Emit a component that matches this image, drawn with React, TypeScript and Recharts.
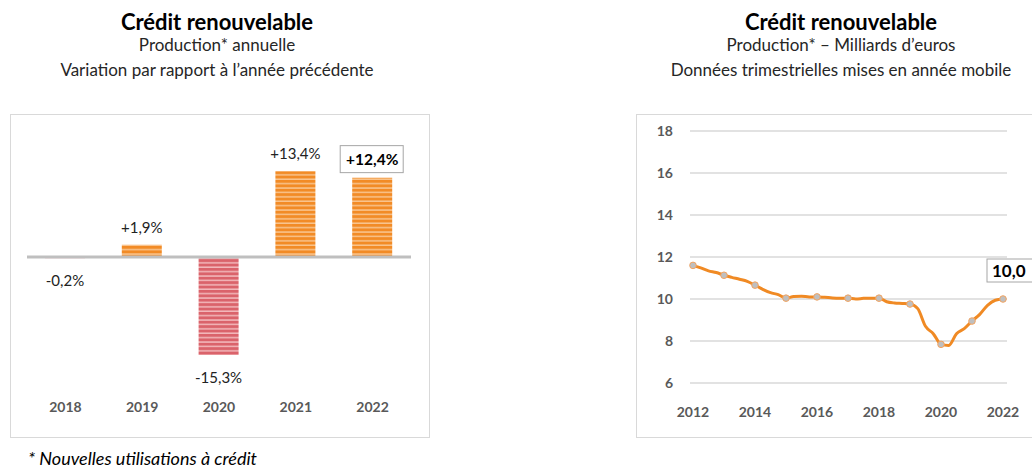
import { Bar, BarChart, CartesianGrid, Cell, LabelList, Line, LineChart, ReferenceLine, XAxis, YAxis } from "recharts";

// Graphique de gauche : variation annuelle (%)
const barYears = ["2018", "2019", "2020", "2021", "2022"];
const barValues = [-0.2, 1.9, -15.3, 13.4, 12.4];
const barLabels = ["-0,2%", "+1,9%", "-15,3%", "+13,4%", "+12,4%"];

// Graphique de droite : production trimestrielle en année mobile (Md€)
const quarters = [
  2012, 2012.25, 2012.5, 2012.75, 2013, 2013.25, 2013.5, 2013.75, 2014, 2014.25, 2014.5, 2014.75,
  2015, 2015.25, 2015.5, 2015.75, 2016, 2016.25, 2016.5, 2016.75, 2017, 2017.25, 2017.5, 2017.75,
  2018, 2018.25, 2018.5, 2018.75, 2019, 2019.25, 2019.5, 2019.75, 2020, 2020.25, 2020.5, 2020.75,
  2021, 2021.25, 2021.5, 2021.75, 2022,
];
const production = [
  11.6, 11.48, 11.34, 11.26, 11.13, 11.03, 10.94, 10.84, 10.66, 10.46, 10.3, 10.21,
  10.04, 10.12, 10.13, 10.1, 10.1, 10.08, 10.05, 10.04, 10.04, 10.0, 10.03, 10.04,
  10.04, 9.87, 9.81, 9.79, 9.76, 9.54, 8.7, 8.35, 7.84, 7.79, 8.35, 8.59,
  8.95, 9.27, 9.7, 9.94, 10.0,
];
const yTicks = [6, 8, 10, 12, 14, 16, 18];
const xTicks = [2012, 2014, 2016, 2018, 2020, 2022];

const ORANGE = "#F08A24";
const AXIS_GREY = "#595959";
const FONT = "Lato, 'Open Sans', sans-serif";

const barData = barYears.map((y, i) => ({ year: y, value: barValues[i], label: barLabels[i] }));
const lineData = quarters.map((q, i) => ({ q, value: production[i] }));

function BarLabel(props: any) {
  const { x, y, width, height, index } = props;
  const top = Math.min(y, y + height);
  const bottom = Math.max(y, y + height);
  const cx = x + width / 2;
  const v = barValues[index];
  const text = barLabels[index];
  if (index === barValues.length - 1) {
    const cy = top - 18.5;
    return (
      <g>
        <rect x={cx - 32} y={cy - 13.5} width={63} height={27} fill="#fff" stroke="#a6a6a6" />
        <text x={cx} y={cy} textAnchor="middle" dominantBaseline="central" fontSize={15.5} fontWeight={700} fill="#000">
          {text}
        </text>
      </g>
    );
  }
  const cy = v >= 0 ? top - 18 : bottom + 22;
  return (
    <text x={cx} y={cy} textAnchor="middle" dominantBaseline="central" fontSize={15} fill="#222">
      {text}
    </text>
  );
}

function LastLabel(props: any) {
  const { x, y, index } = props;
  if (index !== production.length - 1) return null;
  return (
    <g>
      <rect x={x - 16} y={y - 40} width={60} height={23} fill="#fff" stroke="#a6a6a6" />
      <text x={x - 11} y={y - 28.5} dominantBaseline="central" fontSize={17} fontWeight={700} fill="#000">
        {production[index].toFixed(1).replace(".", ",")}
      </text>
    </g>
  );
}

function YearDot(props: any) {
  const { cx, cy, index, payload } = props;
  if (!Number.isInteger(payload.q)) return <g key={`d${index}`} />;
  return <circle key={`d${index}`} cx={cx} cy={cy} r={3.3} fill="#bfbfbf" stroke="#F4A460" strokeWidth={1} />;
}

const titleStyle = { position: "absolute" as const, textAlign: "center" as const, color: "#000" };

function Titles({ left, width, line1, line2 }: { left: number; width: number; line1: string; line2: string }) {
  return (
    <>
      <div style={{ ...titleStyle, left, width, top: 9, fontSize: 22, fontWeight: 700, lineHeight: "26px" }}>
        Crédit renouvelable
      </div>
      <div style={{ ...titleStyle, left, width, top: 32, fontSize: 17, lineHeight: "25px", color: "#262626" }}>
        {line1}
        <br />
        {line2}
      </div>
    </>
  );
}

export default function App() {
  return (
    <div
      style={{
        position: "absolute",
        left: 0,
        top: 0,
        width: 1032,
        height: 468,
        overflow: "hidden",
        background: "#fff",
        fontFamily: FONT,
      }}
    >
      <Titles left={17} width={400} line1="Production* annuelle" line2="Variation par rapport à l’année précédente" />
      <Titles
        left={641}
        width={400}
        line1="Production* – Milliards d’euros"
        line2="Données trimestrielles mises en année mobile"
      />

      <div style={{ position: "absolute", left: 10, top: 114, width: 420, height: 324, border: "1px solid #d9d9d9", boxSizing: "border-box" }} />
      <div style={{ position: "absolute", left: 10, top: 114 }}>
        <BarChart width={420} height={324} data={barData} margin={{ top: 15, right: 19, left: 17, bottom: 23 }}>
          <defs>
            <pattern id="stripeOrange" patternUnits="userSpaceOnUse" width={8} height={4.4}>
              <rect width={8} height={4.4} fill="#F28B26" />
              <rect y={2.9} width={8} height={1.5} fill="#F9C48E" />
            </pattern>
            <pattern id="stripeRed" patternUnits="userSpaceOnUse" width={8} height={4.4}>
              <rect width={8} height={4.4} fill="#DA636B" />
              <rect y={2.9} width={8} height={1.5} fill="#F2B8BB" />
            </pattern>
          </defs>
          <XAxis
            dataKey="year"
            axisLine={false}
            tickLine={false}
            tickSize={0}
            tickMargin={17}
            height={30}
            tick={{ fontSize: 14, fontWeight: 700, fill: AXIS_GREY }}
          />
          <YAxis hide domain={[-20, 20]} />
          <Bar dataKey="value" barSize={40} isAnimationActive={false}>
            {barData.map((d) => (
              <Cell key={d.year} fill={d.value >= 0 ? "url(#stripeOrange)" : "url(#stripeRed)"} />
            ))}
            <LabelList dataKey="value" content={BarLabel} />
          </Bar>
          <ReferenceLine y={0} stroke="#bfbfbf" strokeWidth={3} />
        </BarChart>
      </div>

      <div style={{ position: "absolute", left: 636, top: 114, width: 420, height: 324, border: "1px solid #d9d9d9", boxSizing: "border-box" }} />
      <div style={{ position: "absolute", left: 636, top: 114 }}>
        <LineChart width={396} height={323} data={lineData} margin={{ top: 17, right: 25, left: 0, bottom: 24 }}>
          <CartesianGrid vertical={false} stroke="#d9d9d9" strokeWidth={1.3} />
          <XAxis
            dataKey="q"
            type="number"
            domain={[2012, 2022]}
            ticks={xTicks}
            padding={{ left: 3, right: 4 }}
            axisLine={false}
            tickLine={false}
            tickSize={0}
            tickMargin={24}
            height={30}
            tick={{ fontSize: 14, fontWeight: 700, fill: AXIS_GREY }}
          />
          <YAxis
            domain={[6, 18]}
            ticks={yTicks}
            width={54}
            axisLine={false}
            tickLine={false}
            tickSize={0}
            tickMargin={17}
            tick={{ fontSize: 14, fontWeight: 700, fill: AXIS_GREY }}
          />
          <Line
            type="monotone"
            dataKey="value"
            stroke={ORANGE}
            strokeWidth={3}
            dot={YearDot}
            activeDot={false}
            isAnimationActive={false}
          >
            <LabelList dataKey="value" content={LastLabel} />
          </Line>
        </LineChart>
      </div>

      <div style={{ position: "absolute", left: 28, top: 449, fontSize: 18, fontStyle: "italic", color: "#000", lineHeight: "18px", whiteSpace: "nowrap" }}>
        *&nbsp;Nouvelles utilisations à crédit
      </div>
    </div>
  );
}
